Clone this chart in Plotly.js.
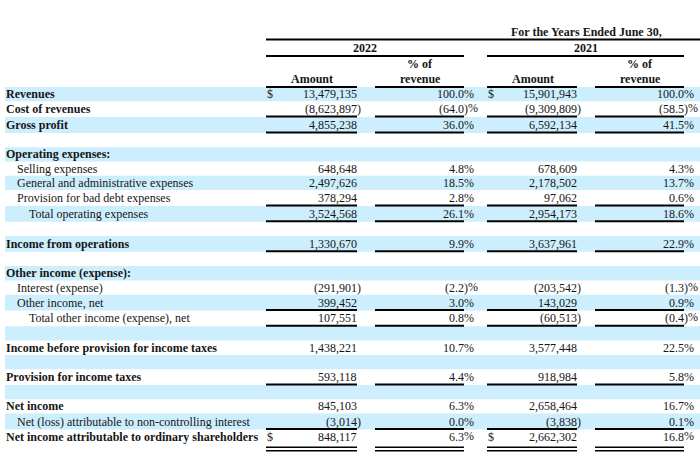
<!DOCTYPE html>
<html><head><meta charset="utf-8">
<script src="https://cdn.plot.ly/plotly-3.0.1.min.js"></script>
<style>html,body{margin:0;padding:0;background:#fff}#chart{width:700px;height:456px}</style>
</head><body><div id="chart"></div>
<script>
// ---------- data ----------
const periodTitle = "For the Years Ended June 30,";
const years = ["2022", "2021"];
const amountHead = "Amount";
const pctHead = ["% of", "revenue"];
const labels = [
  "Revenues", "Cost of revenues", "Gross profit", "",
  "Operating expenses:", "Selling expenses", "General and administrative expenses",
  "Provision for bad debt expenses", "Total operating expenses", "",
  "Income from operations", "",
  "Other income (expense):", "Interest (expense)", "Other income, net",
  "Total other income (expense), net", "",
  "Income before provision for income taxes", "",
  "Provision for income taxes", "",
  "Net income", "Net (loss) attributable to non-controlling interest",
  "Net income attributable to ordinary shareholders"
];
const labelLevel = [0,0,0,0, 0,1,1,1,2,0, 0,0, 0,1,1,2,0, 0,0, 0,0, 0,1,0];
const labelBold  = [1,1,1,0, 1,0,0,0,0,0, 1,0, 1,0,0,0,0, 1,0, 1,0, 1,0,1];
const amount2022 = [13479135,-8623897,4855238,null, null,648648,2497626,378294,3524568,null,
  1330670,null, null,-291901,399452,107551,null, 1438221,null, 593118,null, 845103,-3014,848117];
const pct2022 = [100.0,-64.0,36.0,null, null,4.8,18.5,2.8,26.1,null,
  9.9,null, null,-2.2,3.0,0.8,null, 10.7,null, 4.4,null, 6.3,0.0,6.3];
const amount2021 = [15901943,-9309809,6592134,null, null,678609,2178502,97062,2954173,null,
  3637961,null, null,-203542,143029,-60513,null, 3577448,null, 918984,null, 2658464,-3838,2662302];
const pct2021 = [100.0,-58.5,41.5,null, null,4.3,13.7,0.6,18.6,null,
  22.9,null, null,-1.3,0.9,-0.4,null, 22.5,null, 5.8,null, 16.7,0.1,16.8];
const dollarRows = [0, 23];
const singleRuleRows = [1,2,7,8,10,14,15,19,22];
const doubleRuleRows = [23];

// ---------- layout constants ----------
const FONT = "Liberation Serif, Times New Roman, serif";
const FS = 12, COLOR = "#161616", BAND = "#cdeefd";
const top0 = 87, hPlain = 14.3, hRule = 15.8;
const labelX = [6, 17, 29];
const cols = [
  {amt: amount2022, pct: pct2022, aL: 266, aR: 357, pL: 375, pR: 464, dollar: 267},
  {amt: amount2021, pct: pct2021, aL: 487, aR: 577, pL: 595, pR: 684, dollar: 488}
];

// row boundaries
const ruled = new Set(singleRuleRows.concat(doubleRuleRows));
const rowTop = [], rowBot = [];
let y = top0;
labels.forEach((l, i) => { rowTop.push(y); y += ruled.has(i) ? hRule : hPlain; rowBot.push(y); });
const rowMid = i => (rowTop[i] + rowBot[i]) / 2;

const ann = [], shapes = [];
function txt(x, yy, t, anchor, opts) {
  ann.push(Object.assign({x: x, y: yy, xref: 'x', yref: 'y', text: t, showarrow: false,
    xanchor: anchor, yanchor: 'middle', borderpad: 0, borderwidth: 0,
    font: {family: FONT, size: FS, color: COLOR}}, opts || {}));
}
function hline(x0, x1, yy, w) {
  shapes.push({type: 'line', xref: 'x', yref: 'y', x0: x0, x1: x1, y0: yy, y1: yy,
    line: {color: '#000', width: w || 2}});
}

// alternating light-blue bands
labels.forEach((l, i) => {
  if (i % 2 === 0) {
    shapes.push({type: 'rect', xref: 'x', yref: 'y', x0: 5, x1: 700, y0: rowTop[i], y1: rowBot[i],
      fillcolor: BAND, line: {width: 0}, layer: 'below'});
  }
});

// headers
txt(586, 32, "<b>" + periodTitle + "</b>", 'center');
hline(266, 700, 39.5);
cols.forEach((c, k) => {
  txt((c.aL + c.pR) / 2, 48, "<b>" + years[k] + "</b>", 'center');
  hline(c.aL, c.pR, 56);
  txt((c.aL + c.aR) / 2 + 0.5, 79, "<b>" + amountHead + "</b>", 'center');
  txt((c.pL + c.pR) / 2 + 0.5, 64, "<b>" + pctHead[0] + "</b>", 'center');
  txt((c.pL + c.pR) / 2 + 0.5, 79, "<b>" + pctHead[1] + "</b>", 'center');
  hline(c.aL, c.aR, 87);
  hline(c.pL, c.pR, 87);
});

// body
const fmt = v => Math.abs(v).toLocaleString('en-US');
labels.forEach((l, i) => {
  const ym = rowMid(i);
  if (l) txt(labelX[labelLevel[i]], ym, labelBold[i] ? "<b>" + l + "</b>" : l, 'left');
  cols.forEach(c => {
    const a = c.amt[i], p = c.pct[i];
    if (a !== null) {
      txt(c.aR, ym, (a < 0 ? "(" : "") + fmt(a), 'right');
      if (a < 0) txt(c.aR, ym, ")", 'left');
      if (dollarRows.includes(i)) txt(c.dollar, ym, "$", 'left');
    }
    if (p !== null) {
      txt(c.pR, ym, (p < 0 ? "(" : "") + Math.abs(p).toFixed(1), 'right');
      let px = c.pR, ys = 0;
      if (p < 0) { txt(c.pR, ym, ")", 'left'); px += 4; ys = 1; }
      if (doubleRuleRows.includes(i)) ys = 1.5;
      txt(px, ym, "%", 'left', {yshift: ys});
    }
  });
  if (singleRuleRows.includes(i)) {
    cols.forEach(c => { hline(c.aL, c.aR, rowBot[i] - 0.5); hline(c.pL, c.pR, rowBot[i] - 0.5); });
  }
  if (doubleRuleRows.includes(i)) {
    cols.forEach(c => {
      [rowBot[i] + 2, rowBot[i] + 5.5].forEach(yy => { hline(c.aL, c.aR, yy, 1.6); hline(c.pL, c.pR, yy, 1.6); });
    });
  }
});

const layout = {
  width: 700, height: 456, margin: {l: 0, r: 0, t: 0, b: 0},
  paper_bgcolor: '#fff', plot_bgcolor: '#fff', showlegend: false,
  xaxis: {range: [0, 700], visible: false, fixedrange: true},
  yaxis: {range: [456, 0], visible: false, fixedrange: true},
  annotations: ann, shapes: shapes
};
Plotly.newPlot('chart', [{type: 'scatter', x: [0, 700], y: [0, 456], mode: 'none', hoverinfo: 'skip', showlegend: false}],
  layout, {staticPlot: true, displayModeBar: false});
</script></body></html>
